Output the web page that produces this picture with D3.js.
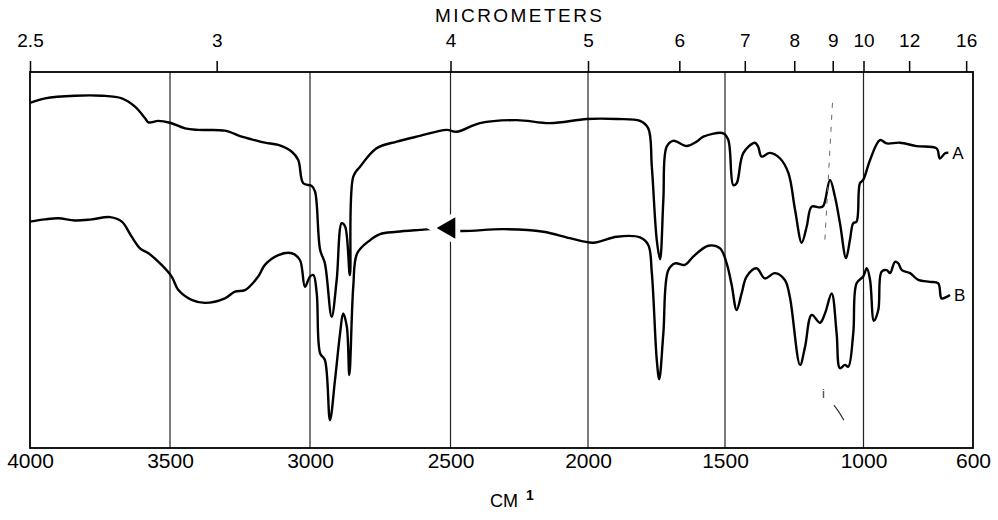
<!DOCTYPE html>
<html><head><meta charset="utf-8">
<script src="https://cdn.jsdelivr.net/npm/d3@7"></script>
<style>body{margin:0;background:#fff}svg{display:block}</style>
</head><body>
<svg id="c" width="998" height="520"></svg>
<script>
// ---- data ----
const wavenumberTicks = [4000, 3500, 3000, 2500, 2000, 1500, 1000, 600];
const micrometerTicks = [2.5, 3, 4, 5, 6, 7, 8, 9, 10, 12, 16];

const wnA = [4000,3946,3839,3744,3672,3625,3589,3577,3542,3500,3446,3399,3304,3244,3208,3161,3113,3065,3042,3024,
  2994,2982,2964,2947,2923,2905,2887,2875,2858,2846,2822,2763,2691,2609,2514,2478,2393,2259,2138,2004,
  1895,1810,1780,1767,1749,1737,1725,1713,1689,1640,1603,1579,1506,1488,1470,1458,1434,1392,1380,1368,
  1338,1301,1271,1247,1223,1205,1187,1157,1145,1121,1103,1085,1063,1049,1037,1025,1013,1001,976,940,
  915,867,806,733,721,702,690];
const tA = [91.8,93.0,93.7,93.7,93.0,90.8,87.7,86.6,87.0,86.5,85.0,84.6,84.4,82.8,82.1,81.2,80.6,78.8,76.6,70.4,
  69.7,68.2,52.7,49.1,34.9,44.7,59.8,58.9,46.0,72.2,74.8,79.7,81.5,83.0,84.6,84.1,86.4,87.2,86.4,87.5,
  87.5,87.0,85.0,74.8,55.3,50.2,66.0,80.1,81.7,80.3,81.5,82.8,83.7,81.9,69.9,70.4,78.4,81.2,80.1,77.5,
  78.5,77.0,73.1,63.3,54.6,58.9,64.2,64.0,64.4,71.3,66.8,59.8,50.5,55.3,59.8,60.2,70.4,71.3,76.6,81.9,
  81.0,81.2,80.3,79.7,77.0,78.4,78.5];

const wnB = [4000,3946,3899,3839,3780,3714,3672,3637,3607,3577,3530,3494,3470,3423,3375,3304,3268,3232,3185,3161,
  3113,3065,3036,3018,3000,2988,2976,2964,2947,2929,2911,2893,2882,2869,2860,2846,2832,2786,2751,2691,
  2609,2573,2459,2308,2162,2066,1981,1895,1810,1780,1767,1749,1740,1725,1707,1682,1646,1616,1561,1518,
  1494,1476,1458,1440,1422,1386,1356,1320,1284,1266,1229,1211,1187,1157,1139,1115,1097,1085,1067,1055,
  1037,1025,1001,988,976,962,946,934,915,903,885,873,860,830,800,757,727,715,696,684];
const tB = [60.2,60.8,61.1,60.5,60.8,61.4,60.2,56.2,53.1,51.8,48.7,45.6,42.0,39.4,38.6,39.8,41.6,42.0,45.6,48.7,
  51.3,51.8,50.0,42.9,45.6,46.0,41.1,25.2,23.4,7.4,18.1,30.5,35.8,32.3,19.4,42.9,51.8,55.3,56.9,57.5,
  58.0,58.2,57.7,58.2,57.5,55.8,54.6,56.2,56.0,54.0,46.5,23.4,18.3,30.5,47.3,49.1,48.7,50.9,53.8,53.1,
  49.1,43.4,36.7,41.1,45.6,47.8,45.1,46.5,44.7,40.2,22.1,26.9,35.4,33.3,35.8,41.1,30.5,21.2,22.1,21.6,
  30.5,43.8,45.6,47.8,44.7,33.8,36.7,46.9,47.3,46.5,49.5,49.1,47.3,46.5,44.7,44.2,43.8,39.8,40.2,40.7];

const seriesLabels = ["A", "B"];
const markerWn = 2505, markerT = 58.5;
const noteLine = {wn: [1112, 1140], t: [91.8, 54.5]};
const noteI = {wn: 1150, t: 13.3};
const noteHook = {wn: [1107, 1090, 1071], t: [11.4, 9.8, 7.4]};

// ---- chart ----
const svg = d3.select("#c");
const FONT = "'Liberation Sans', Arial, Helvetica, sans-serif";
const x = d3.scaleLinear().domain(wavenumberTicks).range([30, 170, 310, 450.5, 588, 725, 863.5, 973]);
const y = d3.scaleLinear().domain([0, 100]).range([448, 72]);

// grid lines
svg.append("g").selectAll("line").data(wavenumberTicks.slice(1, -1)).join("line")
  .attr("x1", d => x(d)).attr("x2", d => x(d))
  .attr("y1", y(100)).attr("y2", y(0))
  .attr("stroke", "#222").attr("stroke-width", 1.2);

// frame
svg.append("rect")
  .attr("x", x(4000)).attr("y", y(100))
  .attr("width", x(600) - x(4000)).attr("height", y(0) - y(100))
  .attr("fill", "none").attr("stroke", "#000").attr("stroke-width", 1.8);

// top axis (micrometers)
const topAxis = svg.append("g").attr("transform", `translate(0,${y(100)})`)
  .call(d3.axisTop(x).tickValues(micrometerTicks.map(m => 10000 / m))
    .tickFormat((d, i) => micrometerTicks[i]).tickSize(11));
topAxis.select(".domain").remove();
topAxis.selectAll(".tick line").attr("stroke", "#000").attr("stroke-width", 1.5);
topAxis.selectAll(".tick text").attr("y", -25).attr("dy", 0)
  .attr("font-family", FONT).attr("font-size", 19).attr("fill", "#000");

svg.append("text").attr("x", 435).attr("y", 22)
  .attr("textLength", 167).attr("lengthAdjust", "spacing")
  .attr("font-family", FONT).attr("font-size", 19).text("MICROMETERS");

// bottom axis (cm-1)
const botAxis = svg.append("g").attr("transform", `translate(0,${y(0)})`)
  .call(d3.axisBottom(x).tickValues(wavenumberTicks).tickFormat(d3.format("d")).tickSize(0));
botAxis.select(".domain").remove();
botAxis.selectAll(".tick text").attr("y", 20).attr("dy", 0)
  .attr("font-family", FONT).attr("font-size", 21).attr("fill", "#000");

const cm = svg.append("text").attr("x", 490).attr("y", 507)
  .attr("font-family", FONT).attr("font-size", 18);
cm.append("tspan").text("CM");
cm.append("tspan").attr("dx", 8).attr("dy", -7).attr("font-size", 14).attr("font-weight", "bold").text("1");

// spectra
const line = d3.line().x(d => x(d[0])).y(d => y(d[1])).curve(d3.curveCatmullRom.alpha(0.5));
const series = [d3.zip(wnA, tA), d3.zip(wnB, tB)];
svg.append("g").selectAll("path").data(series).join("path")
  .attr("d", line).attr("fill", "none").attr("stroke", "#000")
  .attr("stroke-width", 2.4).attr("stroke-linejoin", "round");

// series labels
svg.append("g").selectAll("text").data(series).join("text")
  .attr("x", d => x(d[d.length - 1][0]) + 4)
  .attr("y", d => y(d[d.length - 1][1]) + 6)
  .attr("font-family", FONT).attr("font-size", 17)
  .text((d, i) => seriesLabels[i]);

// marker on B
const tri = d3.symbol(d3.symbolTriangle, 200)();
const mk = svg.append("g").attr("transform", `translate(${x(markerWn)},${y(markerT)}) rotate(-90)`);
mk.append("path").attr("d", tri).attr("fill", "#fff").attr("stroke", "#fff").attr("stroke-width", 10);
mk.append("path").attr("d", tri).attr("fill", "#000");

// faint annotations
svg.append("line")
  .attr("x1", x(noteLine.wn[0])).attr("y1", y(noteLine.t[0]))
  .attr("x2", x(noteLine.wn[1])).attr("y2", y(noteLine.t[1]))
  .attr("stroke", "#666").attr("stroke-width", 1).attr("stroke-dasharray", "5,7");
svg.append("text").attr("x", x(noteI.wn)).attr("y", y(noteI.t))
  .attr("font-family", FONT).attr("font-size", 13).attr("fill", "#333").text("i");
svg.append("path")
  .attr("d", d3.line().curve(d3.curveBasis)(d3.zip(noteHook.wn.map(x), noteHook.t.map(y))))
  .attr("fill", "none").attr("stroke", "#333").attr("stroke-width", 1.2);
</script>
</body></html>
